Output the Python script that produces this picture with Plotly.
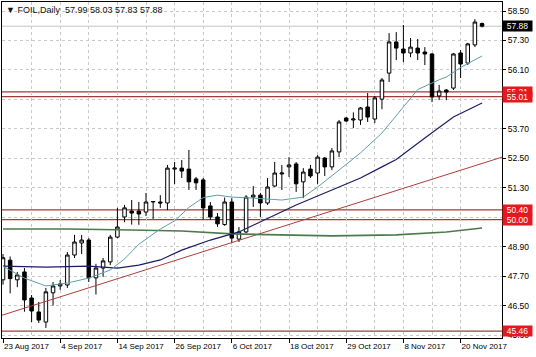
import plotly.graph_objects as go
from datetime import date

# ---------------- data ----------------
dates = [
    "2017-08-23", "2017-08-24", "2017-08-25", "2017-08-28", "2017-08-29", "2017-08-30", "2017-08-31", "2017-09-01",
    "2017-09-04", "2017-09-05", "2017-09-06", "2017-09-07", "2017-09-08", "2017-09-11", "2017-09-12", "2017-09-13",
    "2017-09-14", "2017-09-15", "2017-09-18", "2017-09-19", "2017-09-20", "2017-09-21", "2017-09-22", "2017-09-25",
    "2017-09-26", "2017-09-27", "2017-09-28", "2017-09-29", "2017-10-02", "2017-10-03", "2017-10-04", "2017-10-05",
    "2017-10-06", "2017-10-09", "2017-10-10", "2017-10-11", "2017-10-12", "2017-10-13", "2017-10-16", "2017-10-17",
    "2017-10-18", "2017-10-19", "2017-10-20", "2017-10-23", "2017-10-24", "2017-10-25", "2017-10-26", "2017-10-27",
    "2017-10-29", "2017-10-30", "2017-10-31", "2017-11-01", "2017-11-02", "2017-11-03", "2017-11-06", "2017-11-07",
    "2017-11-08", "2017-11-09", "2017-11-10", "2017-11-13", "2017-11-14", "2017-11-15", "2017-11-16", "2017-11-17",
    "2017-11-20", "2017-11-21", "2017-11-22", "2017-11-23",
]

opens = [47.55, 48.35, 47.55, 47.87, 46.81, 46.24, 45.83, 47.02, 47.30, 47.34, 48.56, 49.05, 49.17, 47.63, 48.03, 48.28,
         49.29, 50.11, 50.35, 50.35, 50.31, 50.72, 50.72, 50.68, 52.06, 52.10, 52.06, 51.66, 51.62, 50.56, 50.11, 49.80,
         50.72, 49.21, 49.50, 50.92, 51.00, 50.68, 51.37, 51.86, 52.15, 52.27, 51.54, 52.06, 51.90, 52.51, 52.15, 52.76,
         54.14, 54.06, 54.06, 54.59, 54.10, 54.91, 55.97, 57.24, 56.95, 56.79, 56.99, 56.83, 56.75, 55.04, 55.28, 55.36,
         56.79, 56.38, 57.12, 57.99]
highs = [48.60, 48.50, 47.87, 48.03, 46.93, 46.65, 47.22, 47.46, 47.54, 48.68, 49.38, 49.38, 49.25, 48.20, 48.44, 49.38,
         50.48, 50.60, 50.80, 50.72, 51.09, 50.76, 51.00, 52.23, 52.35, 52.43, 52.84, 51.74, 51.70, 50.72, 50.27, 50.90,
         50.88, 49.70, 51.00, 51.37, 51.09, 51.70, 52.35, 52.23, 52.55, 52.35, 52.10, 52.23, 52.63, 52.55, 52.92, 54.06,
         54.18, 54.37, 54.59, 55.16, 55.04, 55.77, 57.60, 57.64, 57.93, 57.40, 57.36, 57.03, 56.79, 55.49, 55.32, 56.79,
         56.91, 57.20, 58.17, 58.03]
lows = [47.35, 47.00, 47.25, 46.25, 45.83, 45.79, 45.59, 46.50, 47.14, 47.22, 48.44, 48.60, 47.46, 46.95, 47.67, 48.15,
        49.25, 49.90, 49.80, 49.79, 50.15, 50.03, 50.48, 50.39, 51.45, 51.70, 51.21, 51.21, 49.99, 49.99, 49.70, 49.75,
        49.05, 49.09, 49.45, 50.52, 50.11, 50.60, 51.33, 51.21, 51.74, 51.13, 50.88, 51.70, 51.46, 51.78, 52.02, 52.55,
        53.98, 53.73, 53.86, 53.98, 53.94, 54.50, 55.61, 56.50, 56.42, 56.62, 56.50, 56.30, 54.79, 54.87, 54.87, 55.28,
        55.77, 56.30, 57.03, 57.83]
closes = [48.45, 47.60, 47.75, 46.73, 46.28, 45.91, 47.06, 47.30, 47.38, 48.56, 49.09, 49.17, 47.63, 48.03, 48.32, 49.29,
          49.70, 50.48, 50.27, 50.23, 50.72, 50.74, 50.68, 52.10, 52.10, 51.98, 51.54, 51.50, 50.48, 50.11, 49.83, 50.72,
          49.25, 49.50, 50.92, 51.00, 50.68, 51.33, 51.90, 51.90, 52.23, 51.46, 51.94, 51.78, 52.55, 52.15, 52.80, 53.98,
          54.02, 54.10, 54.55, 54.18, 54.96, 55.69, 57.24, 56.99, 56.79, 57.03, 56.79, 56.75, 55.00, 55.24, 55.20, 56.75,
          56.34, 57.16, 58.05, 57.88]

# moving averages (bar index -> value)
ma_fast_idx = [0, 3, 6, 9, 12, 15, 17, 19, 22, 24, 26, 28, 30, 32, 35, 39, 42, 44, 47, 50, 53, 56, 58, 61, 62, 64, 67]
ma_fast_val = [48.10, 47.62, 47.30, 47.42, 47.62, 47.95, 48.40, 49.00, 49.62, 49.95, 50.50, 50.90, 51.00, 50.92, 50.88,
               50.80, 50.92, 51.33, 52.02, 52.72, 53.53, 54.59, 55.30, 55.70, 55.81, 56.20, 56.67]
ma_mid_idx = [0, 6, 12, 16, 19, 22, 25, 29, 33, 36, 39, 41, 46, 50, 53, 55, 59, 63, 67]
ma_mid_val = [48.11, 48.07, 48.11, 48.03, 48.15, 48.36, 48.76, 49.17, 49.50, 49.90, 50.31, 50.60, 51.21, 51.70, 52.15,
              52.45, 53.33, 54.18, 54.75]
ma_slow_idx = [0, 9, 18, 25, 32, 41, 46, 55, 62, 67]
ma_slow_val = [49.62, 49.62, 49.58, 49.54, 49.42, 49.38, 49.34, 49.38, 49.50, 49.66]

trend_idx = [0, 67]
trend_val = [46.12, 52.29]

levels = [55.21, 55.01, 50.40, 50.00, 45.46]
bid = 57.88
title_text = "\u25BC FOIL,Daily  57.99 58.03 57.83 57.88"

# ---------------- figure ----------------
FONT = "Liberation Sans, Arial, sans-serif"
n = len(dates)
x = list(range(n))
xr = [-0.14, 69.79]
yr = [45.18, 58.867]

def tick_label(s):
    d = date.fromisoformat(s)
    return f"{d.day} {d.strftime('%b %Y')}"

major = list(range(0, n, 8))
minor = list(range(4, n, 8))

fig = go.Figure()

# horizontal levels and bid line
for lv in levels:
    fig.add_shape(type="line", xref="paper", x0=0, x1=1, yref="y", y0=lv, y1=lv,
                  line=dict(color="#a23b3b", width=1.2), layer="below")
fig.add_shape(type="line", xref="paper", x0=0, x1=1, yref="y", y0=bid, y1=bid,
              line=dict(color="#c4c4c4", width=1), layer="below")

# trend line extended across the plot
slope = (trend_val[1] - trend_val[0]) / (trend_idx[1] - trend_idx[0])
tx = [xr[0], xr[1]]
ty = [trend_val[0] + slope * (v - trend_idx[0]) for v in tx]
fig.add_trace(go.Scatter(x=tx, y=ty, mode="lines", line=dict(color="#b03c3c", width=1), hoverinfo="skip"))

fig.add_trace(go.Scatter(x=ma_slow_idx, y=ma_slow_val, mode="lines",
                         line=dict(color="#4b7a4b", width=1.6), hoverinfo="skip"))
fig.add_trace(go.Scatter(x=ma_mid_idx, y=ma_mid_val, mode="lines",
                         line=dict(color="#1c1c66", width=1.2), hoverinfo="skip"))
fig.add_trace(go.Scatter(x=ma_fast_idx, y=ma_fast_val, mode="lines",
                         line=dict(color="#5f9ea8", width=1), hoverinfo="skip"))

fig.add_trace(go.Candlestick(
    x=x, open=opens, high=highs, low=lows, close=closes,
    increasing=dict(line=dict(color="black", width=1), fillcolor="white"),
    decreasing=dict(line=dict(color="black", width=1), fillcolor="black"),
    whiskerwidth=0, hoverinfo="skip",
))

# price boxes on the right scale
box_specs = [(bid, "#000000")] + [(lv, "#e3191f") for lv in levels]
for yv, col in box_specs:
    fig.add_annotation(xref="paper", x=1, xanchor="left", xshift=0, yref="y", y=yv, yanchor="middle",
                       text=f"{yv:.2f}", showarrow=False, bgcolor=col, borderpad=0, height=10, width=29,
                       align="center", font=dict(family=FONT, size=8.5, color="white"))

fig.add_annotation(xref="paper", x=0, xanchor="left", xshift=2, yref="paper", y=1, yanchor="top", yshift=-1,
                   text=title_text, showarrow=False, font=dict(family=FONT, size=9, color="#111111"))

grid = dict(gridcolor="#c8c8c8", griddash="3px,3px", gridwidth=1)

fig.update_layout(
    width=536, height=357,
    margin=dict(l=2, r=34, t=2, b=19),
    paper_bgcolor="white", plot_bgcolor="white",
    showlegend=False,
    font=dict(family=FONT, size=8, color="black"),
    xaxis=dict(
        range=xr, rangeslider=dict(visible=False), showgrid=True, **grid,
        tickmode="array", tickvals=major, ticktext=[tick_label(dates[i]) for i in major],
        ticks="outside", ticklen=4, tickcolor="black", ticklabelposition="outside right",
        tickfont=dict(family=FONT, size=8, color="black"),
        showline=True, linecolor="black", linewidth=1, mirror=True, zeroline=False,
        minor=dict(tickvals=minor, showgrid=True, ticks="", **grid),
    ),
    yaxis=dict(
        range=yr, side="right", showgrid=True, **grid,
        tick0=45.3, dtick=1.2, tickformat=".2f",
        ticks="outside", ticklen=3, tickcolor="black",
        tickfont=dict(family=FONT, size=8.5, color="black"),
        showline=True, linecolor="black", linewidth=1, mirror=True, zeroline=False,
    ),
)

fig.write_html("out.html", config={"displayModeBar": False},
               post_script="document.body.style.margin='0';document.body.style.overflow='hidden';")
